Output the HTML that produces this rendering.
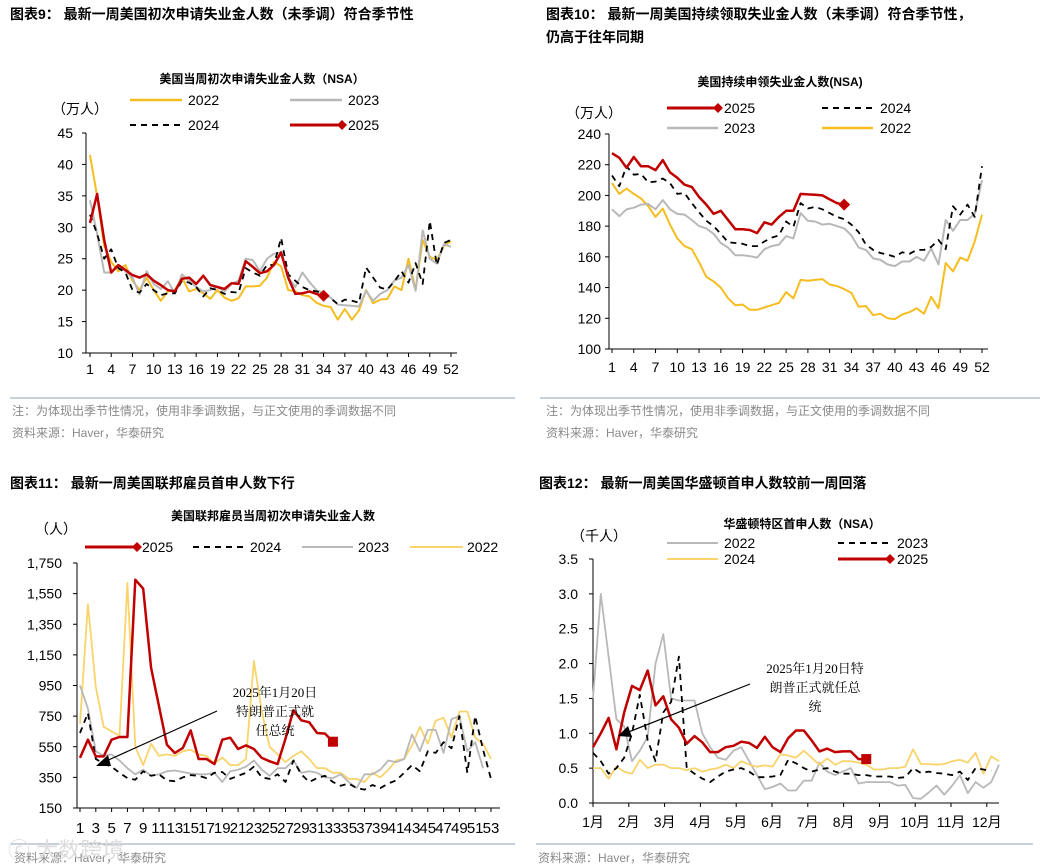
<!DOCTYPE html>
<html><head><meta charset="utf-8"><style>
html,body{margin:0;padding:0;background:#fff;}
svg{display:block;font-family:"Liberation Sans","Noto Sans CJK SC",sans-serif;}
.hd{font-size:14px;font-weight:bold;fill:#000;}
.tt{font-size:12px;font-weight:bold;fill:#000;}
.tk{font-size:14px;fill:#000;}
.tk15{font-size:15px;fill:#000;}
.nt{font-size:12px;fill:#8a8a8a;}
.an{font-family:"Liberation Serif","Noto Serif CJK SC",serif;font-size:13px;fill:#000;}
</style></head><body>
<svg id="root" width="1042" height="866" viewBox="0 0 1042 866">
<text class="hd" x="10" y="19">图表9：  最新一周美国初次申请失业金人数（未季调）符合季节性</text>
<text class="hd" x="546" y="19">图表10：  最新一周美国持续领取失业金人数（未季调）符合季节性，</text>
<text class="hd" x="546" y="42">仍高于往年同期</text>
<text class="hd" x="10" y="488">图表11：  最新一周美国联邦雇员首申人数下行</text>
<text class="hd" x="539" y="488">图表12：  最新一周美国华盛顿首申人数较前一周回落</text>
<line x1="10" y1="398" x2="515" y2="398" stroke="#8ea3b8"/>
<line x1="540" y1="398" x2="1040" y2="398" stroke="#8ea3b8"/>
<line x1="10" y1="844" x2="515" y2="844" stroke="#8ea3b8"/>
<line x1="536" y1="844" x2="1033" y2="844" stroke="#8ea3b8"/>
<text class="nt" x="12" y="415">注：为体现出季节性情况，使用非季调数据，与正文使用的季调数据不同</text>
<text class="nt" x="12" y="437">资料来源：Haver，华泰研究</text>
<text class="nt" x="546" y="415">注：为体现出季节性情况，使用非季调数据，与正文使用的季调数据不同</text>
<text class="nt" x="546" y="437">资料来源：Haver，华泰研究</text>
<text class="nt" x="14" y="862">资料来源：Haver，华泰研究</text>
<text class="nt" x="538" y="862">资料来源：Haver，华泰研究</text>
<text x="8" y="858" font-size="22" fill="#ddd">ⓒ 大数跨境</text>
</svg>
<script>
// ---- Chart 9 data (万人) ----
const c9Weeks = [1,4,7,10,13,16,19,22,25,28,31,34,37,40,43,46,49,52];
const c9YTicks = [10,15,20,25,30,35,40,45];
const c9s2022 = [41.5,35,27,24.5,23,24,21.5,20,22,20,18.3,19.8,20,22,19.8,20.2,19.5,18.6,20,18.8,18.3,18.7,20.6,20.6,20.7,22,24.5,23.8,20,19.8,19.2,19,18,17.5,17.3,15.3,17,15.3,16.8,20,17.9,18.5,18.6,20.6,20,25,20,28,25.3,24.8,27,27.8];
const c9s2023 = [34.3,29,22.8,22.8,24,23,22,19.3,23,21,20.2,21.4,19.5,22.5,21.5,20.5,19.8,20,20.5,19.8,21,21.5,25,24.8,23,25,25.8,26,22,20.5,22.8,21.3,20,19.5,18.8,17.7,17.6,17.5,17.4,19.9,18.3,19.4,20,21.5,22,24,19.9,29.5,25,24.2,27.3,26.9];
const c9s2024 = [32,29,25,26.5,23.5,22.8,20,19.6,21,20,19.2,19.5,19.5,21.5,21.2,20.5,19,20.3,20,19.4,19.7,19.6,23.5,22.8,22.3,24,24,28.3,22.5,21.5,20.5,20,19.8,19.5,18.7,17.8,18.5,18.3,18,23.6,22,20.4,20.1,21.4,23,21.2,24.3,21,31,24,27.5,28];
const c9s2025 = [30.7,35.3,28,22.8,24,23.2,22.4,22,22.5,21.5,20.8,20,19.8,21.8,22,21,22.3,20.8,20.5,20.2,21.1,21,24.6,23.7,22.7,23,24,26,22,19.4,19.5,19.8,19.4,19.1];
// ---- Chart 10 data (万人) ----
const c10Weeks = [1,4,7,10,13,16,19,22,25,28,31,34,37,40,43,46,49,52];
const c10YTicks = [100,120,140,160,180,200,220,240];
const c10s2025 = [227.5,224.5,218,225,219,219,216.5,223,215,211.5,207,205.5,199,194,188,190,184,178,178,177.5,175.5,182.5,181,186,190,190,201,200.7,200.5,200,197.5,195,194];
const c10s2024 = [213,206,219,213.5,214,208.5,209,211,208,201,201.5,195,189,183.5,180,175,169.5,169,168.5,167,167,170,172.5,174,183,179.5,195,191.5,192.5,191,188.5,186,184.5,181,176,168,164.5,162.5,161.5,160,163,162,164.5,164.5,166.5,171,165,193,187.5,194,186,219];
const c10s2023 = [191,186.5,191,192,194,194.5,191,197,191,188,187.5,184,180,178.5,175,169,166,161,161,160.5,159.5,165,167,168,173.5,172,188.5,183.5,183,181,181.5,180,178.5,174,166,164.5,159,158,155,154,157,157,160,157.5,165.5,155,184,177,184,184,188,210];
const c10s2022 = [208,201,204.5,201,198,193,186,191.5,181,172,167,165,156.5,147,144,140,133,128.5,129,125.5,125.5,127,128.5,130,137,133,145,144.5,145,145.5,142,141,139,136.5,127.5,128,122,123,120,119.5,122.5,124,126.5,123,134,126.5,156,150.5,159.5,157.5,170,187.5];
// ---- Chart 11 data (人) ----
const c11Weeks = [1,3,5,7,9,11,13,15,17,19,21,23,25,27,29,31,33,35,37,39,41,43,45,47,49,51,53];
const c11YTicks = [150,350,550,750,950,1150,1350,1550,1750];
const c11s2025 = [477,596,487,487,596,614,614,1641,1582,1064,814,563,509,542,657,470,470,437,596,609,535,559,535,477,455,437,603,788,723,710,640,636,583];
const c11s2024 = [640,770,470,440,420,380,345,335,390,360,370,330,325,350,365,360,345,380,385,340,360,380,420,350,340,370,320,460,370,320,345,360,320,295,310,280,270,300,280,310,330,380,430,390,520,510,580,540,750,380,750,530,340];
const c11s2023 = [950,800,520,490,500,460,410,370,400,360,370,390,395,385,375,370,370,380,320,390,400,420,460,400,360,410,410,460,380,390,380,350,345,370,320,280,370,370,400,460,450,470,630,520,660,660,510,730,750,520,580,410];
const c11s2022 = [700,1480,940,680,650,620,1620,550,430,570,490,500,490,520,530,500,490,440,480,430,430,470,1110,780,550,500,450,490,520,470,410,410,380,380,340,340,320,380,350,400,460,470,560,680,570,720,740,610,780,780,610,570,470];
// ---- Chart 12 data (千人) ----
const c12Months = ["1月","2月","3月","4月","5月","6月","7月","8月","9月","10月","11月","12月"];
const c12YTicks = [0,0.5,1,1.5,2,2.5,3,3.5];
const c12s2022 = [1.5,3.0,2.1,1.2,1.1,0.6,0.75,0.95,2.0,2.42,1.5,1.47,1.47,1.47,1.0,0.8,0.65,0.62,0.75,0.8,0.6,0.4,0.2,0.23,0.28,0.18,0.18,0.32,0.32,0.58,0.45,0.4,0.45,0.5,0.28,0.3,0.3,0.3,0.3,0.25,0.26,0.07,0.06,0.15,0.25,0.12,0.25,0.4,0.14,0.3,0.22,0.3,0.55];
const c12s2023 = [0.72,0.6,0.42,0.5,0.65,1.0,1.55,0.9,0.6,1.3,1.45,2.1,0.5,0.42,0.35,0.3,0.38,0.45,0.48,0.5,0.45,0.37,0.37,0.38,0.4,0.62,0.57,0.5,0.45,0.48,0.5,0.45,0.42,0.42,0.4,0.4,0.38,0.38,0.38,0.36,0.37,0.5,0.43,0.45,0.43,0.42,0.4,0.45,0.33,0.5,0.48,0.46];
const c12s2024 = [0.5,0.5,0.35,0.52,0.45,0.42,0.62,0.5,0.55,0.55,0.5,0.5,0.47,0.5,0.45,0.48,0.5,0.55,0.5,0.6,0.55,0.52,0.54,0.52,0.7,0.68,0.65,0.75,0.65,0.55,0.64,0.55,0.6,0.6,0.58,0.55,0.48,0.48,0.5,0.5,0.52,0.77,0.56,0.56,0.55,0.56,0.6,0.62,0.58,0.72,0.42,0.67,0.6];
const c12s2025 = [0.8,1.0,1.22,0.77,1.3,1.68,1.62,1.9,1.4,1.53,1.2,1.08,0.85,0.96,0.87,0.73,0.73,0.8,0.82,0.88,0.86,0.79,0.95,0.8,0.73,0.93,1.04,1.04,0.9,0.74,0.78,0.73,0.74,0.74,0.63,0.63];

const NS="http://www.w3.org/2000/svg";
const root=document.getElementById('root');
function mk(tag,attrs,parent,text){const e=document.createElementNS(NS,tag);for(const k in attrs)e.setAttribute(k,attrs[k]);if(text!==undefined)e.textContent=text;(parent||root).appendChild(e);return e;}
function lin(d0,d1,r0,r1){return v=>r0+(v-d0)*(r1-r0)/(d1-d0);}
function drawLine(g,data,xf,yf,color,w,dash,name){
  const pts=data.map((v,i)=>xf(i+1).toFixed(1)+','+yf(v).toFixed(1)).join(' ');
  const p=mk('polyline',{points:pts,fill:'none',stroke:color,'stroke-width':w,'stroke-linejoin':'round'},g);
  if(dash)p.setAttribute('stroke-dasharray',dash);
  
  
  return p;
}
function diamond(g,x,y,s,color){
  const p=mk('polygon',{points:`${x},${y-s} ${x+s},${y} ${x},${y+s} ${x-s},${y}`,fill:color},g);
  
  
}
function legend(g,x1,x2,y,color,w,dash,label,tx,marker){
  const l=mk('line',{x1:x1,y1:y,x2:x2,y2:y,stroke:color,'stroke-width':w},g);
  if(dash)l.setAttribute('stroke-dasharray',dash);
  
  
  if(marker)diamond(g,x2,y,5,color);
  const t=mk('text',{x:tx,y:y+5,class:'tk'},g,label);
  
  
}
function axes(g,ax,ayTop,ayBot,axEnd,yTicks,yf,fmt,lx){
  const a=mk('path',{d:`M${ax},${ayTop} V${ayBot} H${axEnd}`,stroke:'#000',fill:'none','stroke-width':1},g);
  
  
  yTicks.forEach(v=>{
    const y=yf(v);
    mk('line',{x1:ax-4,y1:y,x2:ax,y2:y,stroke:'#000'},g);
    const t=mk('text',{x:lx,y:y+5,class:'tk','text-anchor':'end'},g,fmt(v));
    
    
  });
}
const RED='#c00000',GOLD='#f5bd1f',GRAY='#b8b8b8',BLK='#000',LGOLD='#f9d36c';

// Chart 9
(function(){
  const g=mk('g',{});
  const xf=lin(1,52,90,451), yf=lin(10,45,353,133);
  mk('text',{x:262,y:83,class:'tt','text-anchor':'middle'},g,'美国当周初次申请失业金人数（NSA）');
  mk('text',{x:52,y:114,class:'tk'},g,'（万人）');
  axes(g,86,133,353,457,c9YTicks,yf,v=>String(v),73);
  c9Weeks.forEach(w=>{const t=mk('text',{x:xf(w),y:374,class:'tk','text-anchor':'middle'},g,String(w));mk('line',{x1:xf(w),y1:353,x2:xf(w),y2:357,stroke:'#000'},g);});
  drawLine(g,c9s2022,xf,yf,GOLD,2,null,'series-2022');
  drawLine(g,c9s2023,xf,yf,GRAY,2,null,'series-2023');
  drawLine(g,c9s2024,xf,yf,BLK,1.8,'6,5','series-2024');
  drawLine(g,c9s2025,xf,yf,RED,2.5,null,'series-2025');
  diamond(g,xf(c9s2025.length),yf(c9s2025[c9s2025.length-1]),6,RED);
  legend(g,130,182,100,GOLD,2.5,null,'2022',188);
  legend(g,290,342,100,GRAY,2.5,null,'2023',348);
  legend(g,130,182,125,BLK,2,'6,5','2024',188);
  legend(g,290,342,125,RED,3,null,'2025',348,true);
})();
// Chart 10
(function(){
  const g=mk('g',{});
  const xf=lin(1,52,612,982), yf=lin(100,240,349,134);
  mk('text',{x:780,y:86,class:'tt','text-anchor':'middle'},g,'美国持续申领失业金人数(NSA)');
  mk('text',{x:566,y:118,class:'tk'},g,'（万人）');
  axes(g,609,134,349,988,c10YTicks,yf,v=>String(v),601);
  c10Weeks.forEach(w=>{const t=mk('text',{x:xf(w),y:372,class:'tk','text-anchor':'middle'},g,String(w));mk('line',{x1:xf(w),y1:349,x2:xf(w),y2:353,stroke:'#000'},g);});
  drawLine(g,c10s2022,xf,yf,GOLD,2,null,'series-2022');
  drawLine(g,c10s2023,xf,yf,GRAY,2,null,'series-2023');
  drawLine(g,c10s2024,xf,yf,BLK,1.8,'6,5','series-2024');
  drawLine(g,c10s2025,xf,yf,RED,2.5,null,'series-2025');
  diamond(g,xf(c10s2025.length),yf(c10s2025[c10s2025.length-1]),6,RED);
  legend(g,667,718,108,RED,3,null,'2025',724,true);
  legend(g,822,873,108,BLK,2,'6,5','2024',880);
  legend(g,667,718,128,GRAY,2.5,null,'2023',724);
  legend(g,822,873,128,GOLD,2.5,null,'2022',880);
})();
// Chart 11
(function(){
  const g=mk('g',{});
  const xf=lin(1,53,80,491), yf=lin(150,1750,808,563);
  mk('text',{x:273,y:520,class:'tt','text-anchor':'middle'},g,'美国联邦雇员当周初次申请失业金人数');
  mk('text',{x:35,y:534,class:'tk'},g,'（人）');
  axes(g,77,563,808,500,c11YTicks,yf,v=>v.toLocaleString('en-US'),62);
  c11Weeks.forEach(w=>{const t=mk('text',{x:xf(w),y:833,class:'tk15','text-anchor':'middle'},g,String(w));mk('line',{x1:xf(w),y1:808,x2:xf(w),y2:812,stroke:'#000'},g);});
  drawLine(g,c11s2022,xf,yf,LGOLD,1.8,null,'series-2022');
  drawLine(g,c11s2023,xf,yf,GRAY,1.8,null,'series-2023');
  drawLine(g,c11s2024,xf,yf,BLK,1.8,'6,5','series-2024');
  drawLine(g,c11s2025,xf,yf,RED,2.5,null,'series-2025');
  const n=c11s2025.length;const m=mk('rect',{x:xf(n)-5,y:yf(c11s2025[n-1])-5,width:10,height:10,fill:RED},g);
  
  legend(g,85,137,547,RED,3,null,'2025',142,true);
  legend(g,193,245,547,BLK,2,'6,5','2024',250);
  legend(g,302,353,547,GRAY,2,null,'2023',358);
  legend(g,410,463,547,LGOLD,2,null,'2022',467);
  const ar=mk('line',{x1:217,y1:711,x2:104,y2:762,stroke:'#000','stroke-width':1.2},g);
  
  mk('polygon',{points:'96,766 108,755 111,766',fill:'#000'},g);
  mk('text',{x:275,y:697,class:'an','text-anchor':'middle'},g,'2025年1月20日');
  mk('text',{x:275,y:716,class:'an','text-anchor':'middle'},g,'特朗普正式就');
  mk('text',{x:275,y:735,class:'an','text-anchor':'middle'},g,'任总统');
})();
// Chart 12
(function(){
  const g=mk('g',{});
  const xf=lin(1,53,593,999), yf=lin(0,3.5,803,559);
  const mx=i=>593+i*35.8;
  mk('text',{x:802,y:528,class:'tt','text-anchor':'middle'},g,'华盛顿特区首申人数（NSA）');
  mk('text',{x:571,y:541,class:'tk'},g,'（千人）');
  axes(g,593,559,803,999,c12YTicks,yf,v=>v.toFixed(1),578);
  c12Months.forEach((m,i)=>{const t=mk('text',{x:mx(i),y:827,class:'tk','text-anchor':'middle'},g,m);mk('line',{x1:mx(i),y1:803,x2:mx(i),y2:807,stroke:'#000'},g);});
  drawLine(g,c12s2022,xf,yf,GRAY,1.8,null,'series-2022');
  drawLine(g,c12s2024,xf,yf,LGOLD,1.8,null,'series-2024');
  drawLine(g,c12s2023,xf,yf,BLK,1.8,'6,5','series-2023');
  drawLine(g,c12s2025,xf,yf,RED,2.5,null,'series-2025');
  const n=c12s2025.length;const m=mk('rect',{x:xf(n)-5,y:yf(c12s2025[n-1])-5,width:10,height:10,fill:RED},g);
  
  legend(g,667,718,543,GRAY,2,null,'2022',724);
  legend(g,838,890,543,BLK,2,'6,5','2023',897);
  legend(g,667,718,559,LGOLD,2,null,'2024',724);
  legend(g,838,890,559,RED,3,null,'2025',897,true);
  const ar=mk('line',{x1:750,y1:684,x2:626,y2:733,stroke:'#000','stroke-width':1.2},g);
  
  mk('polygon',{points:'618,736 628,726 632,737',fill:'#000'},g);
  mk('text',{x:815,y:673,class:'an','text-anchor':'middle'},g,'2025年1月20日特');
  mk('text',{x:815,y:692,class:'an','text-anchor':'middle'},g,'朗普正式就任总');
  mk('text',{x:815,y:711,class:'an','text-anchor':'middle'},g,'统');
})();
</script>
</body></html>
